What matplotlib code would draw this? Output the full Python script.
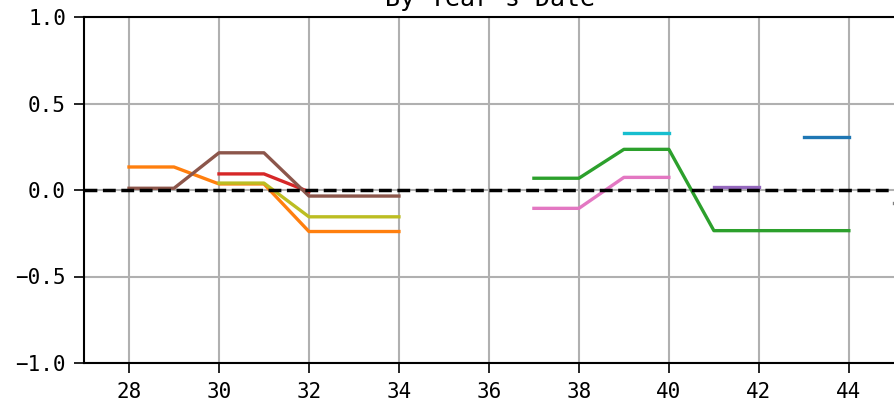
import matplotlib
matplotlib.use("Agg")
import matplotlib.pyplot as plt
import numpy as np

plt.rcParams['font.family'] = ['DejaVu Sans Mono', 'DejaVu Sans']

# weekly series, one per year (x = week number, y = value)
orange_x = [28, 29, 30, 31, 32, 33, 34]
orange_y = [0.133, 0.133, 0.035, 0.035, -0.24, -0.24, -0.24]
brown_x = [28, 29, 30, 31, 32, 33, 34]
brown_y = [0.01, 0.01, 0.215, 0.215, -0.035, -0.035, -0.035]
red_x = [30, 31, 32]
red_y = [0.093, 0.093, -0.01]
olive_x = [30, 31, 32, 33, 34]
olive_y = [0.04, 0.04, -0.155, -0.155, -0.155]
green_x = [37, 38, 39, 40, 41, 42, 43, 44]
green_y = [0.068, 0.068, 0.235, 0.235, -0.235, -0.235, -0.235, -0.235]
pink_x = [37, 38, 39, 40]
pink_y = [-0.106, -0.106, 0.073, 0.073]
cyan_x = [39, 40]
cyan_y = [0.331, 0.331]
purple_x = [41, 42]
purple_y = [0.019, 0.019]
blue_x = [43, 44]
blue_y = [0.308, 0.308]
gray_x = [45, 46]
gray_y = [-0.075, -0.075]

series = [
    (blue_x, blue_y, 'tab:blue'),
    (orange_x, orange_y, 'tab:orange'),
    (green_x, green_y, 'tab:green'),
    (red_x, red_y, 'tab:red'),
    (purple_x, purple_y, 'tab:purple'),
    (brown_x, brown_y, 'tab:brown'),
    (pink_x, pink_y, 'tab:pink'),
    (gray_x, gray_y, 'tab:gray'),
    (olive_x, olive_y, 'tab:olive'),
    (cyan_x, cyan_y, 'tab:cyan'),
]

fig = plt.figure(figsize=(8.95, 4.05), dpi=100)
ax = fig.add_axes([84/895, 42/405, (897-84)/895, (363-17)/405])

for xs, ys, c in series:
    ax.plot(xs, ys, color=c, lw=2.4)

ax.axhline(0, color='black', lw=2.5, ls='--', zorder=3)

ax.set_xlim(27, 45.07)
ax.set_ylim(-1, 1)
ax.set_xticks(np.arange(28, 46, 2))
ax.set_yticks([-1.0, -0.5, 0.0, 0.5, 1.0])
ax.set_yticklabels(['\u22121.0', '\u22120.5', '0.0', '0.5', '1.0'])
ax.grid(True, color='#b0b0b0', lw=1.5)
ax.set_axisbelow(True)
ax.spines['right'].set_visible(False)
for s in ['left', 'top', 'bottom']:
    ax.spines[s].set_linewidth(1.5)
ax.tick_params(labelsize=15, length=7, width=1.2)
ax.tick_params(axis='y', pad=6)
ax.tick_params(axis='x', pad=7)
ax.set_title("By Year's Date", fontsize=18, pad=8)

fig.savefig('out.png', dpi=100)
